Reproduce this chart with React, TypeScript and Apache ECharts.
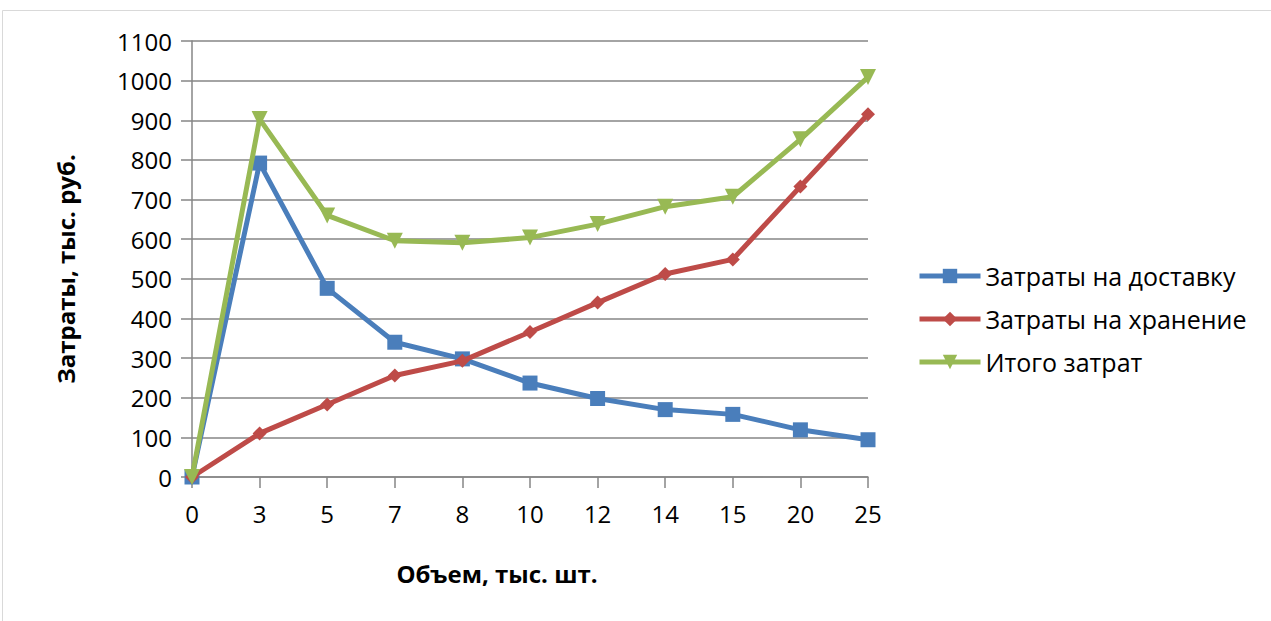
import React, { useEffect, useRef } from "react";
import * as echarts from "echarts";

const categories = ["0", "3", "5", "7", "8", "10", "12", "14", "15", "20", "25"];
const deliveryCosts = [0, 792, 476, 340, 298, 237, 198, 170, 158, 119, 94];
const storageCosts = [0, 110, 183, 256, 293, 366, 440, 512, 549, 733, 915];
const totalCosts = [0, 903, 660, 596, 591, 604, 638, 682, 707, 852, 1009];
const seriesNames = ["Затраты на доставку", "Затраты на хранение", "Итого затрат"];
const xAxisTitle = "Объем, тыс. шт.";
const yAxisTitle = "Затраты, тыс. руб.";

const FONT = "'Open Sans', 'Noto Sans', sans-serif";

export default function App() {
  const ref = useRef<HTMLDivElement>(null);
  useEffect(() => {
    if (!ref.current) return;
    const chart = echarts.init(ref.current, null, { renderer: "svg" });
    chart.setOption({
      animation: false,
      backgroundColor: "#ffffff",
      textStyle: { fontFamily: FONT },
      graphic: [
        {
          type: "rect",
          shape: { x: 2.5, y: 10.5, width: 1400, height: 800 },
          style: { fill: "none", stroke: "#d9d9d9", lineWidth: 1 },
          silent: true,
          z: -1,
        },
        {
          type: "text",
          x: 497,
          y: 573,
          style: {
            text: xAxisTitle,
            font: `bold 24px ${FONT}`,
            fill: "#000",
            align: "center",
            verticalAlign: "middle",
          },
        },
        {
          type: "text",
          x: 65,
          y: 269,
          rotation: Math.PI / 2,
          style: {
            text: yAxisTitle,
            font: `bold 24px ${FONT}`,
            fill: "#000",
            align: "center",
            verticalAlign: "middle",
          },
        },
      ],
      grid: { left: 192, right: 403, top: 41, bottom: 144, containLabel: false },
      legend: {
        orient: "vertical",
        left: 912,
        top: 256,
        itemWidth: 61,
        itemHeight: 18,
        itemGap: 13,
        lineStyle: { width: 5 },
        textStyle: { fontSize: 25, lineHeight: 30, color: "#000", fontFamily: FONT },
        data: seriesNames,
      },
      xAxis: {
        type: "category",
        data: categories,
        boundaryGap: false,
        axisLine: { lineStyle: { color: "#868686", width: 1.5 } },
        axisTick: { show: true, length: 11, alignWithLabel: true, lineStyle: { color: "#868686", width: 1.5 } },
        axisLabel: { fontSize: 24, color: "#000", margin: 24, fontFamily: FONT },
        splitLine: { show: false },
      },
      yAxis: {
        type: "value",
        min: 0,
        max: 1100,
        interval: 100,
        axisLine: { show: true, lineStyle: { color: "#868686", width: 1.5 } },
        axisTick: { show: true, length: 11, lineStyle: { color: "#868686", width: 1.5 } },
        axisLabel: {
          fontSize: 24,
          color: "#000",
          margin: 20,
          fontFamily: FONT,
          formatter: (v: number) => String(v),
        },
        splitLine: { show: true, lineStyle: { color: "#868686", width: 1.5 } },
      },
      series: [
        {
          name: seriesNames[0],
          type: "line",
          data: deliveryCosts,
          symbol: "rect",
          symbolSize: 15,
          lineStyle: { width: 5, color: "#4A7EBB" },
          itemStyle: { color: "#4A7EBB" },
          z: 3,
        },
        {
          name: seriesNames[1],
          type: "line",
          data: storageCosts,
          symbol: "diamond",
          symbolSize: 14,
          lineStyle: { width: 5, color: "#BE4B48" },
          itemStyle: { color: "#BE4B48" },
          z: 4,
        },
        {
          name: seriesNames[2],
          type: "line",
          data: totalCosts,
          symbol: "triangle",
          symbolRotate: 180,
          symbolSize: 16,
          lineStyle: { width: 5, color: "#98B954" },
          itemStyle: { color: "#98B954" },
          z: 5,
        },
      ],
    });
    return () => chart.dispose();
  }, []);
  return (
    <div
      ref={ref}
      style={{ position: "fixed", left: 0, top: 0, width: 1271, height: 621 }}
    />
  );
}
